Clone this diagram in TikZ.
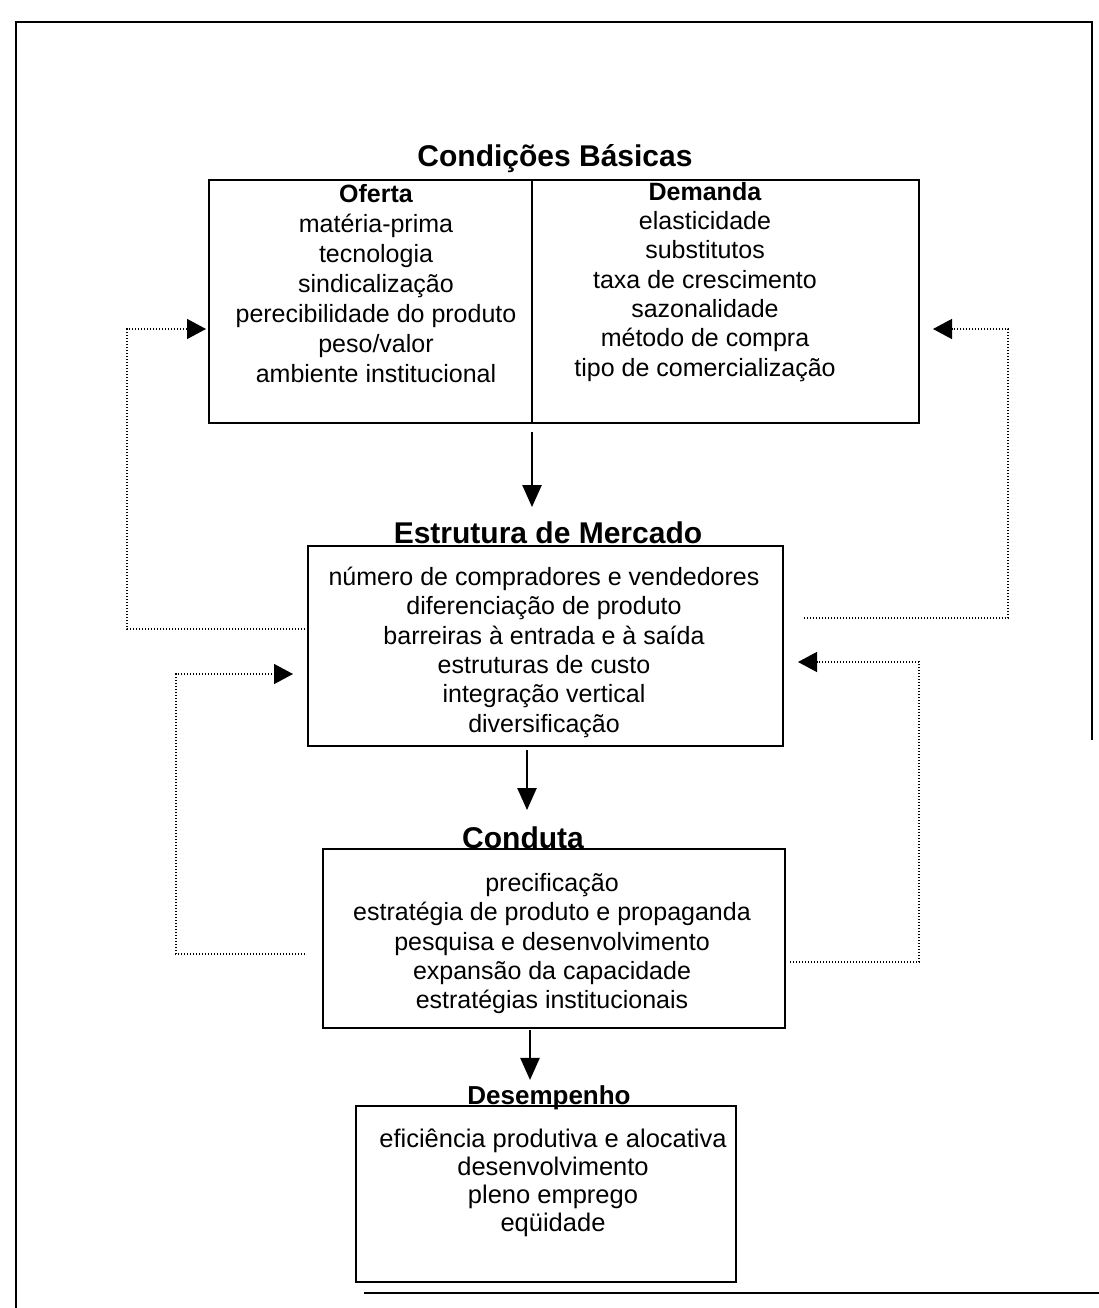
\documentclass[tikz,border=0pt]{standalone}
\usepackage{fontspec}
\setmainfont{Liberation Sans}
\usetikzlibrary{arrows.meta}
\begin{document}
\begin{tikzpicture}[x=1pt,y=-1pt,
  frame/.style={line width=2.2pt},
  box/.style={draw, line width=2.2pt, rectangle, inner sep=0pt, outer sep=0pt},
  body/.style={align=center, inner sep=0pt, anchor=north, font=\fontsize{25pt}{29.4pt}\selectfont},
  title/.style={inner sep=0pt, anchor=base, font=\fontsize{30pt}{36pt}\selectfont\bfseries},
  flow/.style={line width=2.4pt, -{Triangle[width=19pt,length=22pt]}},
  feedback/.style={line width=1.4pt, dash pattern=on 1.4pt off 1.6pt, -{Triangle[width=20pt,length=19pt]}},
]
\useasboundingbox (0,0) rectangle (1099,1308);

% page frame (partly open)
\draw[frame] (1092,740) -- (1092,22) -- (16,22) -- (16,1308);
\draw[frame] (364,1293) -- (1099,1293);

% boxes
\node[box, minimum width=710pt, minimum height=243pt] (cb) at (564,301.5) {};
\coordinate (divtop) at (532,180);
\coordinate (divbot) at (532,423);
\draw[frame] (divtop) -- (divbot);
\node[box, minimum width=475pt, minimum height=200pt] (em) at (545.5,646) {};
\node[box, minimum width=462pt, minimum height=179pt] (cd) at (554,938.5) {};
\node[box, minimum width=380pt, minimum height=176pt] (ds) at (546,1194) {};

% titles
\node[title] (cbt) at (555,167) {Condições Básicas};
\node[title] (emt) at (548,543) {Estrutura de Mercado};
\node[title] (cdt) at (523,848) {Conduta};
\node[title, font=\fontsize{26pt}{32pt}\selectfont\bfseries] (dst) at (549,1104) {Desempenho};

% box contents
\node[body, font=\fontsize{25pt}{30pt}\selectfont] (oferta) at (376,182)
  {\rule{0pt}{20pt}\textbf{Oferta}\\matéria-prima\\tecnologia\\sindicalização\\perecibilidade do produto\\peso/valor\\ambiente institucional};
\node[body, font=\fontsize{25pt}{29.3pt}\selectfont] (demanda) at (705,180)
  {\rule{0pt}{20pt}\textbf{Demanda}\\elasticidade\\substitutos\\taxa de crescimento\\sazonalidade\\método de compra\\tipo de comercialização};
\node[body] (emtxt) at (544,565)
  {\rule{0pt}{20pt}número de compradores e vendedores\\diferenciação de produto\\barreiras à entrada e à saída\\estruturas de custo\\integração vertical\\diversificação};
\node[body] (cdtxt) at (552,871)
  {\rule{0pt}{20pt}precificação\\estratégia de produto e propaganda\\pesquisa e desenvolvimento\\expansão da capacidade\\estratégias institucionais};
\node[body, font=\fontsize{25.5pt}{28pt}\selectfont] (dstxt) at (553,1127)
  {\rule{0pt}{20pt}eficiência produtiva e alocativa\\desenvolvimento\\pleno emprego\\eqüidade};

% main flow
\draw[flow] ([yshift=-9pt]divbot) -- ([yshift=14pt]divbot |- emt.north);
\draw[flow] ([shift={(-18.5,4)}]em.south) -- ([shift={(4,-16)}]cdt.north);
\draw[flow] ([shift={(-24,2)}]cd.south) -- ([shift={(-19,-5)}]dst.north);

% feedback loops
\draw[feedback] ([shift={(0,-17)}]em.west) -| (127,329) -- ([shift={(-3,27.5)}]cb.west);
\draw[feedback] ([shift={(21,-28)}]em.east) -| (1008,329) -- ([shift={(14,27.5)}]cb.east);
\draw[feedback] ([shift={(-18,15.5)}]cd.west) -| (176,674) -- ([shift={(-15,28)}]em.west);
\draw[feedback] ([shift={(5,23.5)}]cd.east) -| (919,662) -- ([shift={(15,16)}]em.east);
\end{tikzpicture}
\end{document}
